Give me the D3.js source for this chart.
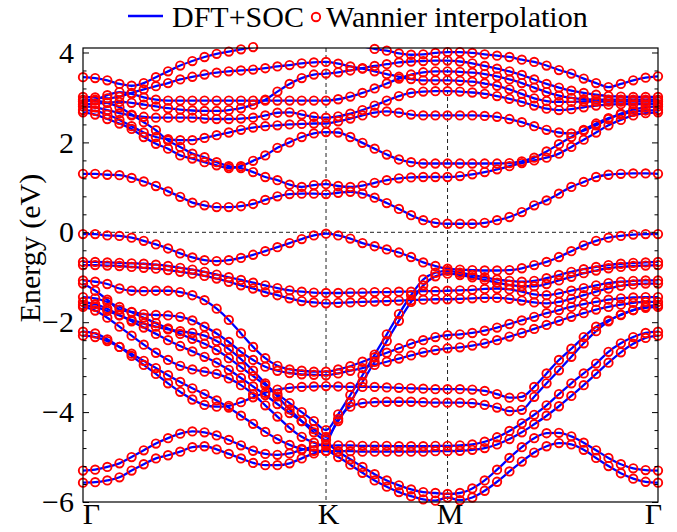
<!DOCTYPE html>
<html>
<head>
<meta charset="utf-8">
<script src="https://cdn.jsdelivr.net/npm/d3@7"></script>
<style>
body { margin: 0; background: #fff; }
svg { display: block; }
svg text { font-family: 'Liberation Serif', 'Times New Roman', serif; }
</style>
</head>
<body>
<svg id="svg" width="677" height="532"></svg>
<script>
// high-symmetry path (lengths in units of 2pi/a) and number of k steps per segment
const kLabels = ['Γ', 'K', 'M', 'Γ']
const kNodes = [0, 4 / 3, 2, 2 + 2 / Math.sqrt(3)]
const kSteps = [20, 10, 17]
const yMajor = [-6, -4, -2, 0, 2, 4]

// band energies (eV), one value per k point: G-K (21) | K-M (10) | M-G (17)
const bandV1 = [-0.04, -0.04, -0.07, -0.08, -0.12, -0.19, -0.27, -0.36, -0.47, -0.56, -0.62, -0.64, -0.62, -0.57, -0.50, -0.42, -0.33, -0.24, -0.15, -0.07, -0.03,
    -0.07, -0.14, -0.24, -0.31, -0.38, -0.45, -0.55, -0.67, -0.75, -0.81,
    -0.83, -0.84, -0.85, -0.85, -0.84, -0.80, -0.73, -0.66, -0.55, -0.42, -0.29, -0.19, -0.12, -0.08, -0.05, -0.04, -0.04]
const bandV2 = [-0.66, -0.66, -0.67, -0.68, -0.69, -0.70, -0.72, -0.75, -0.79, -0.83, -0.88, -0.94, -1.00, -1.06, -1.12, -1.18, -1.24, -1.29, -1.32, -1.34, -1.35,
    -1.35, -1.34, -1.34, -1.33, -1.33, -1.32, -1.32, -1.31, -1.31, -1.30,
    -1.29, -1.28, -1.26, -1.25, -1.27, -1.32, -1.38, -1.40, -1.36, -1.30, -1.24, -1.18, -1.13, -1.10, -1.08, -1.07, -1.07]
const bandV3 = [-0.73, -0.73, -0.74, -0.75, -0.77, -0.79, -0.81, -0.84, -0.88, -0.92, -0.97, -1.03, -1.10, -1.18, -1.25, -1.33, -1.40, -1.47, -1.53, -1.56, -1.58,
    -1.57, -1.56, -1.55, -1.54, -1.53, -1.52, -1.51, -1.50, -1.49, -1.49,
    -1.48, -1.47, -1.46, -1.46, -1.48, -1.52, -1.56, -1.58, -1.55, -1.48, -1.40, -1.32, -1.25, -1.19, -1.16, -1.14, -1.14]
const bandA = [-1.07, -1.10, -1.15, -1.25, -1.30, -1.31, -1.30, -1.30, -1.33, -1.40, -1.51, -1.70, -1.95, -2.25, -2.55, -2.80, -2.97, -3.05, -3.08, -3.10, -3.10,
    -3.05, -2.98, -2.88, -2.78, -2.68, -2.58, -2.48, -2.40, -2.33, -2.29,
    -2.27, -2.24, -2.19, -2.12, -2.04, -1.96, -1.88, -1.80, -1.73, -1.66, -1.60, -1.55, -1.50, -1.47, -1.45, -1.44, -1.44]
const bandB = [-1.14, -1.30, -1.50, -1.72, -1.77, -1.82, -1.84, -1.85, -1.88, -1.96, -2.10, -2.25, -2.44, -2.66, -2.84, -2.99, -3.08, -3.13, -3.16, -3.17, -3.18,
    -3.14, -3.08, -3.02, -2.95, -2.88, -2.81, -2.74, -2.67, -2.62, -2.58,
    -2.56, -2.52, -2.47, -2.40, -2.32, -2.24, -2.15, -2.06, -1.97, -1.88, -1.80, -1.72, -1.66, -1.61, -1.57, -1.55, -1.55]
const bandS1 = [-1.44, -1.47, -1.55, -1.66, -1.78, -1.90, -2.02, -2.14, -2.26, -2.37, -2.48, -2.62, -2.80, -3.00, -3.20, -3.40, -3.60, -3.80, -4.00, -4.20, -4.40,
    -4.05, -3.62, -3.18, -2.72, -2.27, -1.82, -1.40, -1.05, -0.90, -0.86,
    -0.90, -0.95, -1.00, -1.05, -1.08, -1.10, -1.08, -1.02, -0.95, -0.88, -0.82, -0.77, -0.73, -0.70, -0.68, -0.67, -0.66]
const bandS2 = [-1.55, -1.60, -1.70, -1.84, -1.98, -2.12, -2.26, -2.40, -2.53, -2.65, -2.77, -2.90, -3.06, -3.24, -3.43, -3.62, -3.82, -4.02, -4.20, -4.38, -4.55,
    -4.20, -3.78, -3.33, -2.88, -2.42, -1.97, -1.55, -1.18, -0.98, -0.92,
    -0.95, -1.00, -1.06, -1.12, -1.17, -1.20, -1.20, -1.15, -1.07, -0.99, -0.91, -0.85, -0.80, -0.77, -0.75, -0.74, -0.73]
const bandE = [-1.62, -1.66, -1.75, -1.85, -1.95, -2.03, -2.10, -2.16, -2.20, -2.24, -2.30, -2.42, -2.60, -2.82, -3.08, -3.36, -3.65, -3.94, -4.20, -4.45, -4.62,
    -4.15, -3.88, -3.80, -3.78, -3.77, -3.77, -3.77, -3.78, -3.79, -3.79,
    -3.79, -3.80, -3.84, -3.90, -3.98, -3.95, -3.66, -3.36, -3.07, -2.77, -2.47, -2.20, -1.98, -1.83, -1.73, -1.68, -1.66]
const bandFU = [-2.21, -2.25, -2.38, -2.55, -2.75, -2.95, -3.15, -3.36, -3.55, -3.72, -3.84, -3.88, -3.86, -3.78, -3.67, -3.57, -3.50, -3.46, -3.44, -3.43, -3.42,
    -3.43, -3.44, -3.44, -3.44, -3.45, -3.46, -3.47, -3.48, -3.49, -3.49,
    -3.49, -3.50, -3.53, -3.60, -3.68, -3.66, -3.44, -3.14, -2.84, -2.59, -2.33, -2.10, -1.96, -1.84, -1.73, -1.65, -1.62]
const bandF1 = [-1.66, -1.74, -1.90, -2.10, -2.30, -2.50, -2.68, -2.84, -2.97, -3.05, -3.10, -3.15, -3.25, -3.40, -3.60, -3.85, -4.10, -4.35, -4.55, -4.68, -4.75,
    -4.74, -4.74, -4.75, -4.75, -4.75, -4.76, -4.76, -4.76, -4.75, -4.75,
    -4.74, -4.72, -4.66, -4.56, -4.42, -4.25, -4.06, -3.85, -3.60, -3.36, -3.14, -2.92, -2.66, -2.47, -2.33, -2.24, -2.21]
const bandF2 = [-2.30, -2.33, -2.42, -2.55, -2.70, -2.86, -3.02, -3.18, -3.33, -3.47, -3.60, -3.74, -3.90, -4.08, -4.26, -4.44, -4.60, -4.73, -4.82, -4.86, -4.87,
    -4.87, -4.87, -4.88, -4.88, -4.88, -4.88, -4.88, -4.88, -4.87, -4.87,
    -4.86, -4.84, -4.80, -4.72, -4.60, -4.45, -4.27, -4.08, -3.87, -3.64, -3.40, -3.15, -2.90, -2.67, -2.48, -2.35, -2.30]
const bandD1 = [-5.30, -5.28, -5.22, -5.14, -5.00, -4.85, -4.70, -4.58, -4.48, -4.43, -4.45, -4.52, -4.62, -4.74, -4.86, -4.93, -4.95, -4.92, -4.84, -4.76, -4.72,
    -4.88, -5.05, -5.22, -5.38, -5.52, -5.63, -5.72, -5.78, -5.80, -5.82,
    -5.80, -5.70, -5.52, -5.28, -5.02, -4.78, -4.58, -4.47, -4.46, -4.54, -4.68, -4.85, -5.02, -5.16, -5.25, -5.29, -5.30]
const bandD2 = [-5.57, -5.56, -5.52, -5.45, -5.30, -5.16, -5.03, -4.96, -4.88, -4.78, -4.76, -4.83, -4.93, -5.03, -5.13, -5.18, -5.18, -5.14, -5.03, -4.92, -4.86,
    -5.00, -5.17, -5.35, -5.52, -5.66, -5.78, -5.87, -5.94, -5.97, -5.90,
    -5.96, -5.90, -5.75, -5.55, -5.32, -5.10, -4.90, -4.76, -4.69, -4.72, -4.84, -5.02, -5.20, -5.36, -5.48, -5.55, -5.57]

const bandC1 = [3.45, 3.43, 3.38, 3.30, 3.26, 3.32, 3.45, 3.58, 3.71, 3.81, 3.90, 3.97, 4.02, 4.07, 4.12, 4.16, 4.20, 4.23, 4.25, 4.26, 4.26,
    4.24, 4.20, 4.14, 4.08, 4.04, 3.98, 3.95, 3.96, 3.99, 4.01,
    4.01, 3.99, 3.96, 3.93, 3.90, 3.84, 3.79, 3.71, 3.61, 3.53, 3.42, 3.32, 3.23, 3.30, 3.38, 3.44, 3.47]
const bandC2 = [3.01, 3.00, 2.98, 3.02, 3.10, 3.18, 3.25, 3.32, 3.40, 3.46, 3.51, 3.55, 3.58, 3.60, 3.62, 3.65, 3.69, 3.72, 3.76, 3.78, 3.79,
    3.75, 3.69, 3.64, 3.58, 3.52, 3.46, 3.41, 3.38, 3.38, 3.38,
    3.37, 3.35, 3.31, 3.26, 3.18, 3.08, 2.98, 2.92, 2.90, 2.90, 2.91, 2.91, 2.91, 2.91, 2.91, 2.91, 2.91]
const bandC3 = [2.85, 2.86, 2.88, 2.90, 2.88, 2.84, 2.80, 2.76, 2.73, 2.71, 2.70, 2.70, 2.72, 2.76, 2.84, 2.95, 3.13, 3.30, 3.43, 3.51, 3.53,
    3.56, 3.60, 3.65, 3.70, 3.74, 3.78, 3.80, 3.81, 3.82, 3.82,
    3.80, 3.76, 3.70, 3.64, 3.58, 3.50, 3.40, 3.30, 3.22, 3.15, 3.10, 3.06, 3.03, 3.02, 3.01, 3.01, 3.01]
const bandC4 = [2.91, 2.95, 3.05, 3.12, 3.08, 3.00, 2.95, 2.93, 2.93, 2.93, 2.93, 2.93, 2.93, 2.93, 2.93, 2.93, 2.93, 2.93, 2.93, 2.93, 2.93,
    2.96, 3.02, 3.10, 3.20, 3.31, 3.42, 3.51, 3.56, 3.58, 3.58,
    3.57, 3.55, 3.52, 3.47, 3.40, 3.32, 3.22, 3.12, 3.04, 2.99, 2.96, 2.95, 2.95, 2.95, 2.95, 2.95, 2.95]
const bandC5 = [2.80, 2.78, 2.72, 2.65, 2.60, 2.57, 2.55, 2.55, 2.55, 2.55, 2.53, 2.52, 2.52, 2.53, 2.55, 2.60, 2.66, 2.67, 2.62, 2.57, 2.55,
    2.58, 2.64, 2.72, 2.82, 2.93, 3.03, 3.10, 3.13, 3.14, 3.14,
    3.13, 3.11, 3.08, 3.03, 2.97, 2.90, 2.82, 2.75, 2.72, 2.74, 2.78, 2.82, 2.84, 2.85, 2.85, 2.85, 2.85]
const bandC6 = [2.72, 2.70, 2.62, 2.50, 2.36, 2.22, 2.12, 2.07, 2.05, 2.05, 2.10, 2.16, 2.22, 2.28, 2.33, 2.36, 2.38, 2.40, 2.41, 2.42, 2.42,
    2.47, 2.53, 2.60, 2.66, 2.69, 2.66, 2.62, 2.60, 2.60, 2.60,
    2.60, 2.60, 2.59, 2.57, 2.52, 2.45, 2.36, 2.28, 2.22, 2.20, 2.26, 2.38, 2.52, 2.64, 2.73, 2.78, 2.80]
const bandC7 = [2.67, 2.62, 2.52, 2.42, 2.30, 2.12, 1.97, 1.86, 1.71, 1.64, 1.56, 1.49, 1.43, 1.47, 1.59, 1.71, 1.88, 2.00, 2.12, 2.20, 2.23,
    2.22, 2.12, 1.99, 1.86, 1.73, 1.62, 1.56, 1.53, 1.53, 1.53,
    1.53, 1.53, 1.53, 1.53, 1.54, 1.58, 1.66, 1.80, 1.96, 2.12, 2.28, 2.42, 2.54, 2.62, 2.68, 2.71, 2.72]
const bandC8 = [2.95, 2.93, 2.88, 2.78, 2.62, 2.45, 2.27, 2.04, 1.90, 1.75, 1.67, 1.56, 1.47, 1.43, 1.34, 1.23, 1.16, 1.06, 1.01, 1.05, 1.07,
    1.03, 1.01, 1.04, 1.10, 1.16, 1.20, 1.22, 1.23, 1.23, 1.23,
    1.25, 1.29, 1.34, 1.40, 1.47, 1.54, 1.60, 1.66, 1.75, 1.90, 2.06, 2.22, 2.38, 2.50, 2.60, 2.65, 2.67]
const bandC9 = [1.30, 1.30, 1.28, 1.27, 1.21, 1.13, 1.03, 0.91, 0.79, 0.66, 0.60, 0.56, 0.56, 0.58, 0.63, 0.72, 0.80, 0.85, 0.86, 0.86, 0.85,
    0.88, 0.90, 0.86, 0.77, 0.65, 0.52, 0.38, 0.27, 0.21, 0.19,
    0.19, 0.19, 0.21, 0.27, 0.34, 0.45, 0.60, 0.71, 0.86, 1.01, 1.12, 1.23, 1.28, 1.30, 1.31, 1.31, 1.30]

const bands = [bandV1, bandV2, bandV3, bandA, bandB, bandS1, bandS2, bandE, bandFU, bandF1, bandF2, bandD1, bandD2,
    bandC1, bandC2, bandC3, bandC4, bandC5, bandC6, bandC7, bandC8, bandC9]

// k coordinate of every point along the path
const kPath = [0]
kSteps.forEach((n, s) => {
    for (let j = 1; j <= n; j++) kPath.push(kNodes[s] + (kNodes[s + 1] - kNodes[s]) * j / n)
})

const svg = d3.select('#svg')
const margin = { top: 48, bottom: 30, left: 83, right: 19 }
const width = +svg.attr('width')
const height = +svg.attr('height')
const serif = "'Liberation Serif', 'Times New Roman', serif"

const xScale = d3.scaleLinear()
    .domain([0, kNodes[3]])
    .range([margin.left, width - margin.right])
const yScale = d3.scaleLinear()
    .domain([-6, 4.1])
    .range([height - margin.bottom, margin.top])

const x0 = xScale.range()[0], x1 = xScale.range()[1]
const yTop = yScale.range()[1], yBot = yScale.range()[0]

svg.append('clipPath').attr('id', 'plotclip')
    .append('rect')
    .attr('x', x0).attr('y', yTop)
    .attr('width', x1 - x0).attr('height', yBot - yTop)

// dashed guides at K, M and the Fermi level
const guides = svg.append('g')
    .attr('stroke', '#222')
    .attr('stroke-width', 1)
    .attr('stroke-dasharray', '4,3')
kNodes.slice(1, 3).forEach(k => {
    guides.append('line')
        .attr('x1', xScale(k)).attr('x2', xScale(k))
        .attr('y1', yTop).attr('y2', yBot)
})
guides.append('line')
    .attr('x1', x0).attr('x2', x1)
    .attr('y1', yScale(0)).attr('y2', yScale(0))

// DFT+SOC bands
const line = d3.line()
    .x((d, i) => xScale(kPath[i]))
    .y(d => yScale(d))
    .curve(d3.curveMonotoneX)

const lineGroup = svg.append('g').attr('clip-path', 'url(#plotclip)')
bands.forEach(b => {
    lineGroup.append('path')
        .attr('d', line(b))
        .attr('fill', 'none')
        .attr('stroke', '#0000ff')
        .attr('stroke-width', 2.3)
})

// Wannier interpolation markers
const dotGroup = svg.append('g')
bands.forEach(b => {
    dotGroup.selectAll(null)
        .data(b.map((e, i) => ({ k: kPath[i], e })).filter(d => d.e <= 4.12 && d.e >= -6.05))
        .enter()
        .append('circle')
        .attr('cx', d => xScale(d.k))
        .attr('cy', d => yScale(d.e))
        .attr('r', 4.2)
        .attr('fill', 'none')
        .attr('stroke', '#ff0000')
        .attr('stroke-width', 1.9)
})

// frame
svg.append('rect')
    .attr('x', x0).attr('y', yTop)
    .attr('width', x1 - x0).attr('height', yBot - yTop)
    .attr('fill', 'none')
    .attr('stroke', '#000')
    .attr('stroke-width', 1.2)

// y axis: major + minor ticks on both sides, pointing inward
const minorTicks = d3.range(-6, 4.01, 0.4).map(v => +v.toFixed(1)).filter(v => yMajor.indexOf(v) < 0)

const yAxis = d3.axisLeft(yScale).tickValues(yMajor).tickSize(-6).tickPadding(9)
const gy = svg.append('g').attr('transform', `translate(${x0},0)`).call(yAxis)
gy.select('.domain').remove()
gy.attr('font-family', null)
gy.selectAll('.tick text').attr('font-size', 30).attr('fill', '#000')

svg.append('g').attr('transform', `translate(${x0},0)`)
    .call(d3.axisLeft(yScale).tickValues(minorTicks).tickSize(-3.5).tickFormat(''))
    .select('.domain').remove()
svg.append('g').attr('transform', `translate(${x1},0)`)
    .call(d3.axisRight(yScale).tickValues(yMajor).tickSize(-6).tickFormat(''))
    .select('.domain').remove()
svg.append('g').attr('transform', `translate(${x1},0)`)
    .call(d3.axisRight(yScale).tickValues(minorTicks).tickSize(-3.5).tickFormat(''))
    .select('.domain').remove()

// x axis labels at the high-symmetry points
const xAxis = d3.axisBottom(xScale).tickValues(kNodes).tickSize(0).tickPadding(1)
    .tickFormat((d, i) => kLabels[i])
const gx = svg.append('g').attr('transform', `translate(0,${yBot})`).call(xAxis)
gx.select('.domain').remove()
gx.attr('font-family', null)
gx.selectAll('.tick text').attr('font-size', 30).attr('fill', '#000')
    .attr('dx', (d, i) => i === 0 ? 8 : (i === 3 ? -5 : 2))

// axis title
svg.append('text')
    .text('Energy (eV)')
    .attr('transform', `translate(40, 248) rotate(-90)`)
    .attr('text-anchor', 'middle')
    .attr('font-size', 30)

// legend
const legend = svg.append('g')
legend.append('line')
    .attr('x1', 128).attr('x2', 163).attr('y1', 16).attr('y2', 16)
    .attr('stroke', '#0000ff').attr('stroke-width', 2.5)
legend.append('text').text('DFT+SOC')
    .attr('x', 172).attr('y', 27).attr('font-size', 30)
legend.append('circle')
    .attr('cx', 316).attr('cy', 17).attr('r', 4.2)
    .attr('fill', 'none').attr('stroke', '#ff0000').attr('stroke-width', 1.9)
legend.append('text').text('Wannier interpolation')
    .attr('x', 326).attr('y', 27).attr('font-size', 30)

svg.selectAll('text').style('font-family', serif)
</script>
</body>
</html>
